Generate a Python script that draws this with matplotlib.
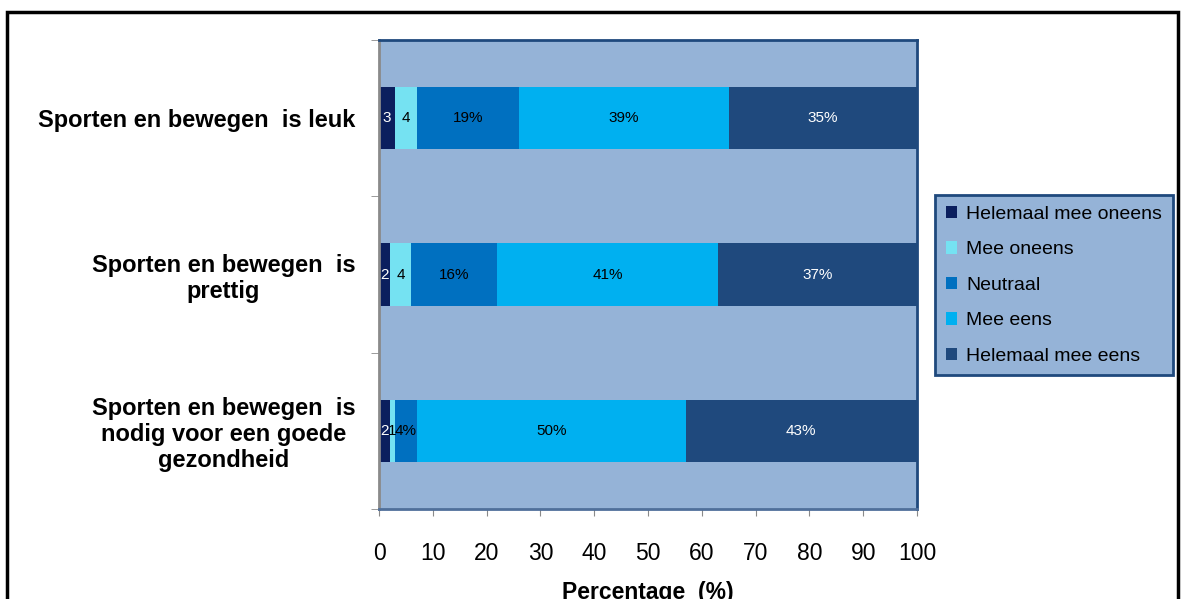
import matplotlib.pyplot as plt
from matplotlib.patches import Rectangle

plt.rcParams['font.family'] = ['Liberation Sans', 'DejaVu Sans']

statements = ['Sporten en bewegen  is leuk',
              'Sporten en bewegen  is\nprettig',
              'Sporten en bewegen  is\nnodig voor een goede\ngezondheid']
series = ['Helemaal mee oneens', 'Mee oneens', 'Neutraal', 'Mee eens', 'Helemaal mee eens']
values = [
    [3, 2, 2],      # Helemaal mee oneens
    [4, 4, 1],      # Mee oneens
    [19, 16, 4],    # Neutraal
    [39, 41, 50],   # Mee eens
    [35, 37, 43],   # Helemaal mee eens
]
labels = [
    ['3', '2', '2'],
    ['4', '4', '1'],
    ['19%', '16%', '4%'],
    ['39%', '41%', '50%'],
    ['35%', '37%', '43%'],
]
colors = ['#0B1F5E', '#75E2F2', '#0070C0', '#00B0F0', '#1F497D']
text_colors = ['white', 'black', 'black', 'black', 'white']
bg = '#95B3D7'

fig = plt.figure(figsize=(11.82, 5.99), dpi=100)
ax = fig.add_axes([379 / 1182, 1 - 509 / 599, 538 / 1182, 469 / 599])
ax.set_facecolor(bg)

ypos = list(range(len(statements)))
left = [0] * len(statements)
for vals, labs, c, tc, name in zip(values, labels, colors, text_colors, series):
    bars = ax.barh(ypos, vals, left=left, height=0.4, color=c, label=name)
    for b, lab in zip(bars, labs):
        ax.text(b.get_x() + b.get_width() / 2, b.get_y() + b.get_height() / 2, lab,
                ha='center', va='center', fontsize=11, color=tc)
    left = [l + v for l, v in zip(left, vals)]

ax.set_xlim(0, 100)
ax.set_ylim(2.5, -0.5)
ax.set_xticks(range(0, 101, 10))
ax.tick_params(axis='x', labelsize=16.5, length=5, color='#8A8A8A', pad=19)
ax.set_yticks(ypos)
ax.set_yticklabels(statements, fontsize=17, fontweight='bold', ha='right',
                   multialignment='center', linespacing=1.15)
ax.tick_params(axis='y', length=0, pad=17)
ax.set_yticks([-0.5, 0.5, 1.5, 2.5], minor=True)
ax.tick_params(axis='y', which='minor', length=6, color='#8A8A8A')
ax.set_xlabel('Percentage  (%)', fontsize=16.5, fontweight='bold', labelpad=11)

for side in ['top', 'right']:
    ax.spines[side].set_color('#1F497D')
    ax.spines[side].set_linewidth(2)
ax.spines['left'].set_color('#8A8A8A')
ax.spines['left'].set_linewidth(2)
ax.spines['bottom'].set_color('#4F6F9A')
ax.spines['bottom'].set_linewidth(2)

leg = fig.legend(loc='upper left', bbox_to_anchor=(935 / 1182, 1 - 195 / 599),
                 fontsize=14, frameon=True, fancybox=False, handlelength=0.6,
                 handleheight=0.6, handletextpad=0.45, labelspacing=0.95,
                 borderpad=0.55, borderaxespad=0)
leg.get_frame().set_facecolor(bg)
leg.get_frame().set_edgecolor('#1F497D')
leg.get_frame().set_linewidth(2)
leg.get_frame().set_alpha(1)

fig.patches.append(Rectangle((7 / 1182, -0.1), 1171 / 1182, 1 - 12 / 599 + 0.1,
                             transform=fig.transFigure, fill=False,
                             edgecolor='black', linewidth=2.5))

fig.savefig('out.png', dpi=100)
